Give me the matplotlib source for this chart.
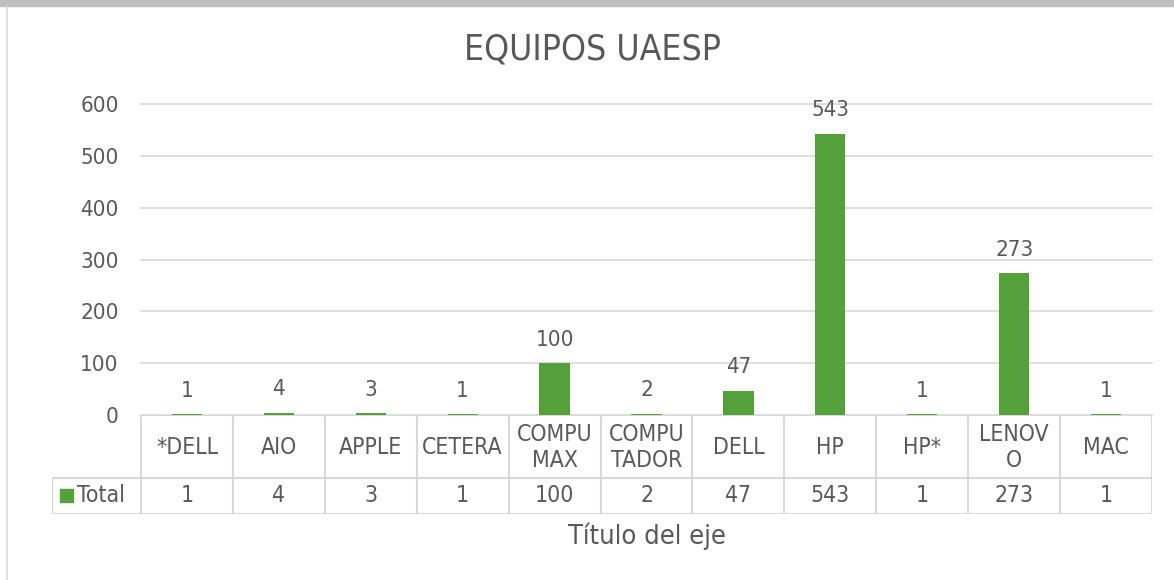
import matplotlib.pyplot as plt
import numpy as np

# =====================
# Data
# =====================
brands = ["*DELL", "AIO", "APPLE", "CETERA", "COMPU\nMAX", "COMPU\nTADOR",
          "DELL", "HP", "HP*", "LENOV\nO", "MAC"]
totals = [1, 4, 3, 1, 100, 2, 47, 543, 1, 273, 1]
yticks = [0, 100, 200, 300, 400, 500, 600]

plt.rcParams["font.family"] = ["DejaVu Sans"]
plt.rcParams["font.stretch"] = "condensed"
txt = "#595959"
grid = "#D9D9D9"
green = "#54A03A"
fs = 16

W, H = 1174, 580
fig = plt.figure(figsize=(W / 100, H / 100), dpi=100)

def fx(px):
    return px / W

def fy(py):
    return 1 - py / H

# screenshot frame bits
fig.patches.append(plt.Rectangle((0, fy(6)), 1, 6 / H, transform=fig.transFigure,
                                 color="#BFBFBF", zorder=0))
fig.add_artist(plt.Line2D([fx(6.5), fx(6.5)], [0, fy(6)], color=grid, lw=1.2))

# =====================
# Bars
# =====================
left, right, top, zero = 141, 1152, 104, 415
ax = fig.add_axes([fx(left), fy(zero), fx(right - left), (zero - top) / H])
x = np.arange(len(totals))
ax.bar(x, totals, width=0.33, color=green, zorder=3)
ax.set_xlim(-0.5, len(totals) - 0.5)
ax.set_ylim(0, 600)
ax.set_yticks(yticks)
ax.set_xticks([])
ax.grid(axis="y", color=grid, lw=1.2, zorder=0)
for gl in ax.get_ygridlines():
    gl.set_clip_on(False)
for s in ax.spines.values():
    s.set_visible(False)
ax.tick_params(axis="y", length=0, labelsize=fs, labelcolor=txt, pad=16)

for xi, v in zip(x, totals):
    ax.annotate(str(v), (xi, v), xytext=(0, 17), textcoords="offset points",
                ha="center", va="center", fontsize=fs, color=txt)

fig.text(fx(593), fy(50), "EQUIPOS UAESP", ha="center", va="center",
         fontsize=25.5, color=txt)

# =====================
# Data table
# =====================
row1, row2 = 478, 514
leg_left = 52
tab = fig.add_axes([fx(leg_left), fy(row2), fx(right - leg_left), (row2 - zero) / H])
tab.set_xlim(leg_left, right)
tab.set_ylim(row2, zero)
tab.axis("off")
colw = (right - left) / len(brands)
lc = dict(color=grid, lw=1.5)
tab.plot([left, right], [zero, zero], **lc)
tab.plot([leg_left, right], [row1, row1], **lc)
tab.plot([leg_left, right], [row2, row2], **lc)
tab.plot([leg_left, leg_left], [row1, row2], **lc)
for i in range(len(brands) + 1):
    xx = left + i * colw
    tab.plot([xx, xx], [zero, row2], **lc)
for i, (b, v) in enumerate(zip(brands, totals)):
    cx = left + (i + 0.5) * colw
    tab.text(cx, (zero + row1) / 2 + 1, b, ha="center", va="center",
             fontsize=16.5, color=txt, linespacing=1.2)
    tab.text(cx, (row1 + row2) / 2, str(v), ha="center", va="center",
             fontsize=16.5, color=txt)
tab.add_patch(plt.Rectangle((60, 489), 13, 13, color=green))
tab.text(77, (row1 + row2) / 2, "Total", ha="left", va="center",
         fontsize=16.5, color=txt)

fig.text(fx((left + right) / 2), fy(536), "Título del eje", ha="center",
         va="center", fontsize=19.5, color=txt)

fig.savefig("out.png", dpi=100)
